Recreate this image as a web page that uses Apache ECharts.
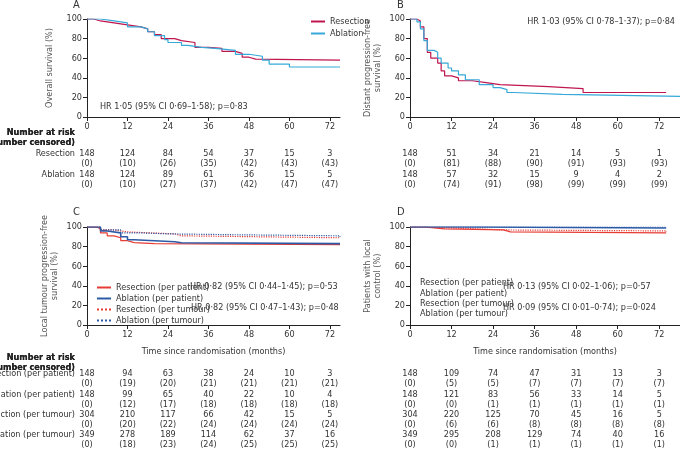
<!DOCTYPE html>
<html><head><meta charset="utf-8">
<script src="https://cdn.jsdelivr.net/npm/echarts@6/dist/echarts.min.js"></script>
<style>html,body{margin:0;background:#fff}#chart{width:680px;height:450px}</style>
</head><body><div id="chart"></div>
<script>
const FONT = '"Liberation Sans Narrow", "DejaVu Sans Condensed", "Roboto", sans-serif';
const TXT = '#333';
const RED = '#c0164f', CYAN = '#36a9d8', RED2 = '#e63c34', BLUE2 = '#2c5aa6';
const timeTicks = [0, 12, 24, 36, 48, 60, 72];

// panel A: overall survival
const aResection = [[0,100],[2,98],[4,96],[8,94],[12,92],[16,90],[18,87],[20,84],[22,80],[26,78],[28,76],[32,71],[36,70],[40,67],[44,65],[46,61],[48,59],[50,58],[75,58]];
const aAblation = [[0,100],[4,98],[8,96],[12,92],[16,90],[18,87],[20,83],[23,79],[24,76],[28,73],[30,71],[34,70],[38,68],[44,64],[48,62],[52,58],[54,54],[60,51],[75,51]];
// panel B: distant progression-free survival
const bResection = [[0,100],[2,98],[3,92],[4,80],[5,66],[6,60],[8,55],[9,47],[10,42],[12,40],[14,37],[18,35],[22,33],[26,31],[40,29],[50,25],[74,25]];
const bAblation = [[0,100],[2,97],[3,90],[4,78],[5,68],[7,66],[8,60],[9,55],[11,50],[12,47],[14,43],[16,38],[20,33],[24,30],[26,28],[28,25],[30,23],[44,21],[78,21]];
// panel C: local tumour progression-free survival
const cResPatient = [[0,100],[3,98],[4,94],[6,91],[8,89],[10,86],[12,84],[14,83],[20,82],[75,82]];
const cAblPatient = [[0,100],[4,96],[6,94],[10,90],[12,87],[14,85],[26,84],[28,83],[75,83]];
const cResTumour = [[0,100],[4,97],[8,95],[12,93],[26,91],[28,89],[75,89]];
const cAblTumour = [[0,100],[4,97],[10,94],[16,93],[24,92],[46,91],[75,90]];
// panel D: local control
const dResPatient = [[0,100],[4,98],[10,97],[27,95],[29,94],[74,94]];
const dAblPatient = [[0,100],[20,99],[74,99]];
const dResTumour = [[0,100],[4,98],[20,97],[27,96],[74,95]];
const dAblTumour = [[0,100],[74,100]];

// number at risk (censored)
const aRows = [['Resection',[148,124,84,54,37,15,3],[0,10,26,35,42,43,43]],['Ablation',[148,124,89,61,36,15,5],[0,10,27,37,42,47,47]]];
const bRows = [[null,[148,51,34,21,14,5,1],[0,81,88,90,91,93,93]],[null,[148,57,32,15,9,4,2],[0,74,91,98,99,99,99]]];
const cRows = [
  ['Resection (per patient)',[148,94,63,38,24,10,3],[0,19,20,21,21,21,21]],
  ['Ablation (per patient)',[148,99,65,40,22,10,4],[0,12,17,18,18,18,18]],
  ['Resection (per tumour)',[304,210,117,66,42,15,5],[0,20,22,24,24,24,24]],
  ['Ablation (per tumour)',[349,278,189,114,62,37,16],[0,18,23,24,25,25,25]]];
const dRows = [
  [null,[148,109,74,47,31,13,3],[0,5,5,7,7,7,7]],
  [null,[148,121,83,56,33,14,5],[0,0,1,1,1,1,1]],
  [null,[304,220,125,70,45,16,5],[0,6,6,8,8,8,8]],
  [null,[349,295,208,129,74,40,16],[0,0,1,1,1,1,1]]];

const chart = echarts.init(document.getElementById('chart'));
const grids = [
  {left: 87, top: 19, width: 253, height: 98},
  {left: 410, top: 19, width: 270, height: 98},
  {left: 87, top: 227, width: 253, height: 98},
  {left: 410, top: 227, width: 270, height: 98}
];
const xMax = [75, 78, 75, 78];
const axisText = {color: TXT, fontFamily: FONT, fontSize: 9};
const xAxes = grids.map((g, i) => ({
  gridIndex: i, type: 'value', min: 0, max: xMax[i],
  axisLine: {lineStyle: {color: '#222'}},
  axisTick: {length: 4, customValues: timeTicks, lineStyle: {color: '#222'}},
  axisLabel: Object.assign({customValues: timeTicks, margin: 5}, axisText),
  splitLine: {show: false},
  name: i >= 2 ? 'Time since randomisation (months)' : '',
  nameLocation: 'middle', nameGap: 22,
  nameTextStyle: {color: TXT, fontFamily: FONT, fontSize: 9}
}));
const yNames = ['Overall survival (%)', 'Distant progression-free\nsurvival (%)', 'Local tumour progression-free\nsurvival (%)', 'Patients with local\ncontrol (%)'];
const yAxes = grids.map((g, i) => ({
  gridIndex: i, type: 'value', min: 0, max: 100, interval: 20,
  axisLine: {show: true, lineStyle: {color: '#222'}},
  axisTick: {show: true, length: 4, lineStyle: {color: '#222'}},
  axisLabel: Object.assign({margin: 5}, axisText),
  splitLine: {show: false},
  name: yNames[i], nameLocation: 'middle', nameGap: i === 0 ? 32 : 27, nameRotate: 90,
  nameTextStyle: {color: '#555', fontFamily: FONT, fontSize: 9, lineHeight: 10}
}));

function km(name, data, idx, color, type, width) {
  return {
    name, type: 'line', step: 'end', data, xAxisIndex: idx, yAxisIndex: idx,
    symbol: 'none', silent: true,
    lineStyle: {color, width: width || 1.2, type: type || 'solid'},
    itemStyle: {color}
  };
}

const series = [
  km('Resection', aResection, 0, RED),
  km('Ablation', aAblation, 0, CYAN),
  km('B res', bResection, 1, RED),
  km('B abl', bAblation, 1, CYAN),
  km('Resection (per patient)', cResPatient, 2, RED2),
  km('Ablation (per patient)', cAblPatient, 2, BLUE2, 'solid', 1.6),
  km('Resection (per tumour)', cResTumour, 2, RED2, 'dotted'),
  km('Ablation (per tumour)', cAblTumour, 2, BLUE2, 'dotted'),
  km('D rp', dResPatient, 3, RED2),
  km('D ap', dAblPatient, 3, BLUE2, 'solid', 1.6),
  km('D rt', dResTumour, 3, RED2, 'dotted'),
  km('D at', dAblTumour, 3, BLUE2, 'dotted')
];

const legendText = {color: TXT, fontFamily: FONT, fontSize: 9};
const legendBase = {orient: 'vertical', itemWidth: 14, itemHeight: 8, textStyle: legendText, selectedMode: false, itemStyle: {opacity: 0}};
chart.setOption({
  animation: false,
  grid: grids,
  xAxis: xAxes,
  yAxis: yAxes,
  series,
  legend: [
    Object.assign({data: ['Resection', 'Ablation'], left: 305, top: 12, itemGap: 3}, legendBase),
    Object.assign({data: ['Resection (per patient)', 'Ablation (per patient)', 'Resection (per tumour)', 'Ablation (per tumour)'], left: 91, top: 278, itemGap: 2}, legendBase)
  ]
});

// texts and number-at-risk tables
const g = [];
function text(x, y, s, opt) {
  g.push({type: 'text', x, y, silent: true, style: Object.assign({text: s, fill: TXT, font: '9px ' + FONT, textVerticalAlign: 'middle'}, opt || {})});
}
const bold = {font: 'bold 9px ' + FONT, fill: '#222'};
text(73, 5, 'A', {font: '11px ' + FONT});
text(397, 5, 'B', {font: '11px ' + FONT});
text(73, 212, 'C', {font: '11px ' + FONT});
text(397, 212, 'D', {font: '11px ' + FONT});
text(100, 107, 'HR 1·05 (95% CI 0·69–1·58); p=0·83');
text(675, 22, 'HR 1·03 (95% CI 0·78–1·37); p=0·84', {textAlign: 'right'});
text(190, 287, 'HR 0·82 (95% CI 0·44–1·45); p=0·53');
text(191, 308, 'HR 0·82 (95% CI 0·47–1·43); p=0·48');
text(503, 287, 'HR 0·13 (95% CI 0·02–1·06); p=0·57');
text(503, 308, 'HR 0·09 (95% CI 0·01–0·74); p=0·024');
['Resection (per patient)', 'Ablation (per patient)', 'Resection (per tumour)', 'Ablation (per tumour)']
  .forEach((s, k) => text(420, 283 + k * 10.3, s));

function table(idx, rows, headerY, firstY, labelX) {
  text(labelX, headerY, 'Number at risk', Object.assign({textAlign: 'right'}, bold));
  text(labelX, headerY + 10, '(number censored)', Object.assign({textAlign: 'right'}, bold));
  rows.forEach((r, k) => {
    const y = firstY + k * 20.3;
    if (r[0]) text(labelX, y, r[0], {textAlign: 'right'});
    timeTicks.forEach((t, j) => {
      const x = chart.convertToPixel({xAxisIndex: idx}, t);
      text(x, y, String(r[1][j]), {textAlign: 'center'});
      text(x, y + 10, '(' + r[2][j] + ')', {textAlign: 'center'});
    });
  });
}
table(0, aRows, 133, 154, 75);
table(1, bRows, 133, 154, 75);
table(2, cRows, 358, 374, 75);
table(3, dRows, 358, 374, 75);
chart.setOption({graphic: g});
</script>
</body></html>
